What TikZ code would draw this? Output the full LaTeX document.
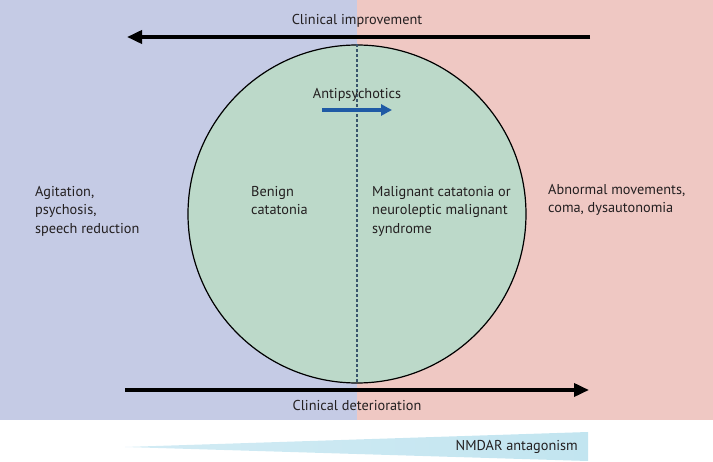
\documentclass[tikz,border=0pt]{standalone}
\usepackage{fontspec}
\setmainfont{PT Sans}
\usetikzlibrary{arrows.meta}
\definecolor{bgblue}{HTML}{C5CBE5}
\definecolor{bgpink}{HTML}{EFC8C3}
\definecolor{circgreen}{HTML}{BCD9C9}
\definecolor{dashcol}{HTML}{3A566E}
\definecolor{antiblue}{HTML}{1F5AA5}
\definecolor{wedgeL}{HTML}{D2EBF4}
\definecolor{wedgeR}{HTML}{C2E5F0}
\definecolor{txt}{HTML}{231F20}
\tikzset{
  lbl/.style={inner sep=0pt, text=txt, font=\fontsize{14.3}{18.5}\selectfont},
  blk/.style={lbl, align=left, anchor=north west},
  bigarrow/.style={line width=3.6pt, draw=black, -{Triangle[length=15pt,width=13pt]}},
  antiarrow/.style={line width=3.6pt, draw=antiblue, -{Triangle[length=11pt,width=11pt]}},
  divline/.style={draw=dashcol, line width=2.6pt, dash pattern=on 3pt off 2pt},
}
\begin{document}
\begin{tikzpicture}[x=1pt,y=-1pt]
\useasboundingbox (0,0) rectangle (713,462);
\fill[bgblue] (0,0) rectangle (357,420);
\fill[bgpink] (357,0) rectangle (713,420);
\node[circle, draw=black, fill=circgreen, minimum size=338pt, inner sep=0pt, line width=1.2pt] (circ) at (357,214) {};
\draw[divline] (circ.north) -- (circ.south);
\coordinate (topR) at (590,37);
\coordinate (topL) at (127,37);
\draw[bigarrow] (topR) -- (topL);
\coordinate (botL) at (125,390);
\coordinate (botR) at (589,390);
\draw[bigarrow] (botL) -- (botR);
\node[lbl] (imp) at (357,21) {Clinical improvement};
\node[lbl] (det) at (357,405) {Clinical deterioration};
\node[lbl] (anti) at (357,95) {Antipsychotics};
\coordinate (aL) at (322,110);
\coordinate (aR) at (392,110);
\draw[antiarrow] (aL) -- (aR);
\node[blk] (left) at (35,186) {Agitation,\\psychosis,\\speech reduction};
\node[blk] (right) at (548,184) {Abnormal movements,\\coma, dysautonomia};
\node[blk] (benign) at (251,186) {Benign\\catatonia};
\node[blk] (malig) at (372,186) {Malignant catatonia or\\neuroleptic malignant\\syndrome};
\coordinate (wT) at (125,447);
\coordinate (wA) at (588,432);
\coordinate (wB) at (588,461);
\shade[left color=wedgeL, right color=wedgeR] (wT) -- (wA) -- (wB) -- cycle;
\node[lbl, anchor=east] (nmdar) at (578,447) {NMDAR antagonism};
\end{tikzpicture}
\end{document}
